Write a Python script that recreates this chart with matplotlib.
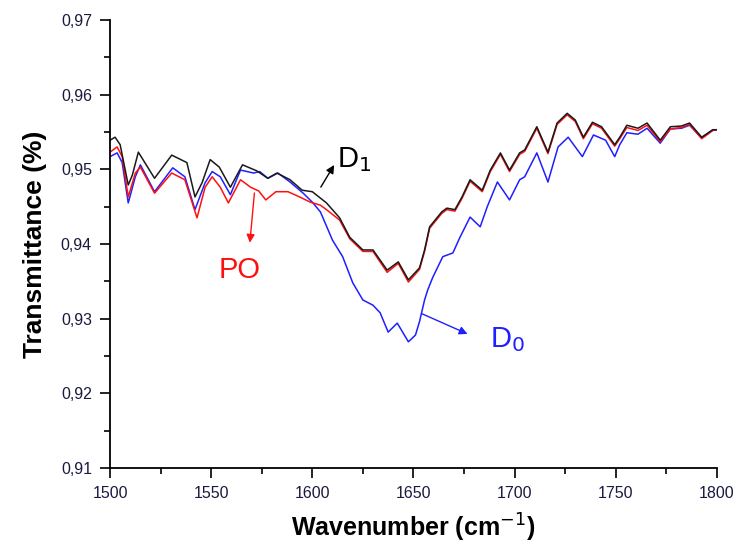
import matplotlib
matplotlib.use("Agg")
import matplotlib.pyplot as plt
from matplotlib.ticker import MultipleLocator, FuncFormatter

plt.rcParams["font.family"] = ["Liberation Sans", "DejaVu Sans"]

# D1 (black)
d1_x = [1500, 1502.5, 1505, 1509, 1511, 1514, 1522, 1530.5, 1538, 1542, 1545.5, 1549.5, 1554,
        1559.5, 1565.5, 1572.5, 1578, 1582.5, 1589, 1595, 1600, 1607, 1613.5, 1618.5, 1625,
        1630, 1637, 1642.5, 1647.5, 1653, 1655.5, 1658, 1664, 1666.5, 1670.5, 1674, 1678,
        1684, 1688, 1693, 1697.5, 1702.5, 1705, 1711, 1716.5, 1721, 1726, 1730, 1734, 1738.5,
        1743, 1749.5, 1752, 1755.5, 1761, 1765.5, 1772, 1777, 1782.5, 1786.5, 1792.5, 1798, 1800]
d1_y = [0.9539, 0.9543, 0.9533, 0.9479, 0.9492, 0.9523, 0.9488, 0.9519, 0.9509, 0.9463, 0.9482,
        0.9513, 0.9503, 0.9476, 0.9506, 0.9498, 0.9488, 0.9495, 0.9486, 0.9472, 0.9470, 0.9455,
        0.9435, 0.9409, 0.9392, 0.9392, 0.9365, 0.9376, 0.9352, 0.9368, 0.9392, 0.9423, 0.9443,
        0.9448, 0.9446, 0.9463, 0.9486, 0.9472, 0.9499, 0.9522, 0.9499, 0.9522, 0.9526, 0.9557,
        0.9523, 0.9562, 0.9575, 0.9566, 0.9543, 0.9563, 0.9557, 0.9533, 0.9543, 0.9559, 0.9555,
        0.9562, 0.9539, 0.9557, 0.9558, 0.9562, 0.9543, 0.9553, 0.9553]

# D0 (blue)
d0_x = [1500, 1503.5, 1506, 1509, 1512.5, 1515, 1522, 1531, 1537, 1542, 1547, 1550.5, 1554.5,
        1559.5, 1564.5, 1571, 1574, 1578, 1583, 1589, 1595.5, 1600, 1604, 1610, 1615, 1620,
        1625, 1630, 1633.5, 1637.5, 1642, 1647.5, 1651, 1653, 1655.5, 1657, 1659.5, 1664.5,
        1669.5, 1673, 1678, 1683, 1686.5, 1691.5, 1697.5, 1702.5, 1705, 1711, 1716.5, 1721.5,
        1726.5, 1733.5, 1739, 1745, 1749.5, 1752, 1755.5, 1761, 1765.5, 1772, 1777, 1782.5,
        1786.5, 1792.5, 1798, 1800]
d0_y = [0.9517, 0.9522, 0.9509, 0.9455, 0.9490, 0.9506, 0.9470, 0.9502, 0.9490, 0.9446, 0.9482,
        0.9497, 0.9490, 0.9466, 0.9499, 0.9495, 0.9497, 0.9488, 0.9495, 0.9483, 0.9468, 0.9456,
        0.9443, 0.9405, 0.9383, 0.9348, 0.9325, 0.9318, 0.9308, 0.9282, 0.9294, 0.9269, 0.9278,
        0.9296, 0.9325, 0.9338, 0.9355, 0.9383, 0.9388, 0.9409, 0.9436, 0.9423, 0.9450, 0.9483,
        0.9459, 0.9486, 0.9490, 0.9522, 0.9483, 0.9530, 0.9543, 0.9517, 0.9546, 0.9539, 0.9517,
        0.9533, 0.9549, 0.9547, 0.9555, 0.9535, 0.9554, 0.9555, 0.9559, 0.9542, 0.9553, 0.9553]

# PO (red)
po_x = [1500, 1503.5, 1506, 1509, 1512.5, 1515, 1522, 1530.5, 1537, 1543, 1547, 1550.5, 1554.5,
        1558.5, 1564.5, 1569.5, 1573.5, 1577, 1582, 1588, 1594.5, 1599, 1604, 1607, 1613.5,
        1618.5, 1625, 1630, 1637, 1642.5, 1647.5, 1653, 1655.5, 1658, 1664, 1666.5, 1670.5,
        1674, 1678, 1684, 1688, 1693, 1697.5, 1702.5, 1705, 1711, 1716.5, 1721, 1726, 1730,
        1734, 1738.5, 1743, 1749.5, 1752, 1755.5, 1761, 1765.5, 1772, 1777, 1782.5, 1786.5,
        1792.5, 1798, 1800]
po_y = [0.9523, 0.9530, 0.9517, 0.9463, 0.9495, 0.9503, 0.9468, 0.9495, 0.9486, 0.9435, 0.9476,
        0.9490, 0.9476, 0.9455, 0.9486, 0.9476, 0.9471, 0.9459, 0.9470, 0.9470, 0.9462, 0.9456,
        0.9452, 0.9446, 0.9432, 0.9407, 0.9390, 0.9390, 0.9362, 0.9374, 0.9349, 0.9366, 0.9390,
        0.9421, 0.9441, 0.9446, 0.9444, 0.9461, 0.9484, 0.9470, 0.9497, 0.9520, 0.9497, 0.9520,
        0.9524, 0.9555, 0.9521, 0.9560, 0.9573, 0.9564, 0.9541, 0.9561, 0.9555, 0.9531, 0.9541,
        0.9556, 0.9552, 0.9559, 0.9537, 0.9554, 0.9556, 0.9560, 0.9541, 0.9552, 0.9553]

fig = plt.figure(figsize=(7.36, 5.46), dpi=100)
ax = fig.add_axes([0.1495, 0.1429, 0.8245, 0.8205])

ax.plot(d0_x, d0_y, color="#1f1fff", lw=1.1)
ax.plot(po_x, po_y, color="#ff1010", lw=1.1)
ax.plot(d1_x, d1_y, color="#1a1a1a", lw=1.1)

ax.set_xlim(1500, 1800)
ax.set_ylim(0.91, 0.97)
ax.xaxis.set_major_locator(MultipleLocator(50))
ax.xaxis.set_minor_locator(MultipleLocator(25))
ax.yaxis.set_major_locator(MultipleLocator(0.01))
ax.yaxis.set_minor_locator(MultipleLocator(0.005))
ax.yaxis.set_major_formatter(FuncFormatter(lambda v, p: f"{v:.2f}".replace(".", ",")))

for s in ["top", "right"]:
    ax.spines[s].set_visible(False)
for s in ["left", "bottom"]:
    ax.spines[s].set_linewidth(1.3)
ax.tick_params(which="major", direction="out", length=7, width=1.2, labelsize=11.5, pad=6,
               labelcolor="#1a1a40")
ax.tick_params(which="minor", direction="out", length=4, width=1.2)

ax.set_xlabel("Wavenumber (cm$^{-1}$)", fontsize=18, fontweight="bold", labelpad=8)
ax.set_ylabel("Transmittance (%)", fontsize=19, fontweight="bold", labelpad=10)

# annotations
ax.annotate("", xy=(1611.5, 0.9509), xytext=(1603.5, 0.9473),
            arrowprops=dict(arrowstyle="-|>", color="black", lw=1.0, mutation_scale=12))
ax.text(1612, 0.9513, "D$_1$", fontsize=21, color="black", va="center", ha="left")

ax.annotate("", xy=(1569, 0.9398), xytext=(1571.5, 0.9472),
            arrowprops=dict(arrowstyle="-|>", color="#ff1010", lw=1.0, mutation_scale=12))
ax.text(1564, 0.9365, "PO", fontsize=21, color="#ff1010", va="center", ha="center")

ax.annotate("", xy=(1678, 0.9278), xytext=(1653, 0.9308),
            arrowprops=dict(arrowstyle="-|>", color="#1f1fff", lw=1.0, mutation_scale=12))
ax.text(1688, 0.9272, "D$_0$", fontsize=21, color="#1f1fff", va="center", ha="left")

fig.savefig("out.png", dpi=100)
